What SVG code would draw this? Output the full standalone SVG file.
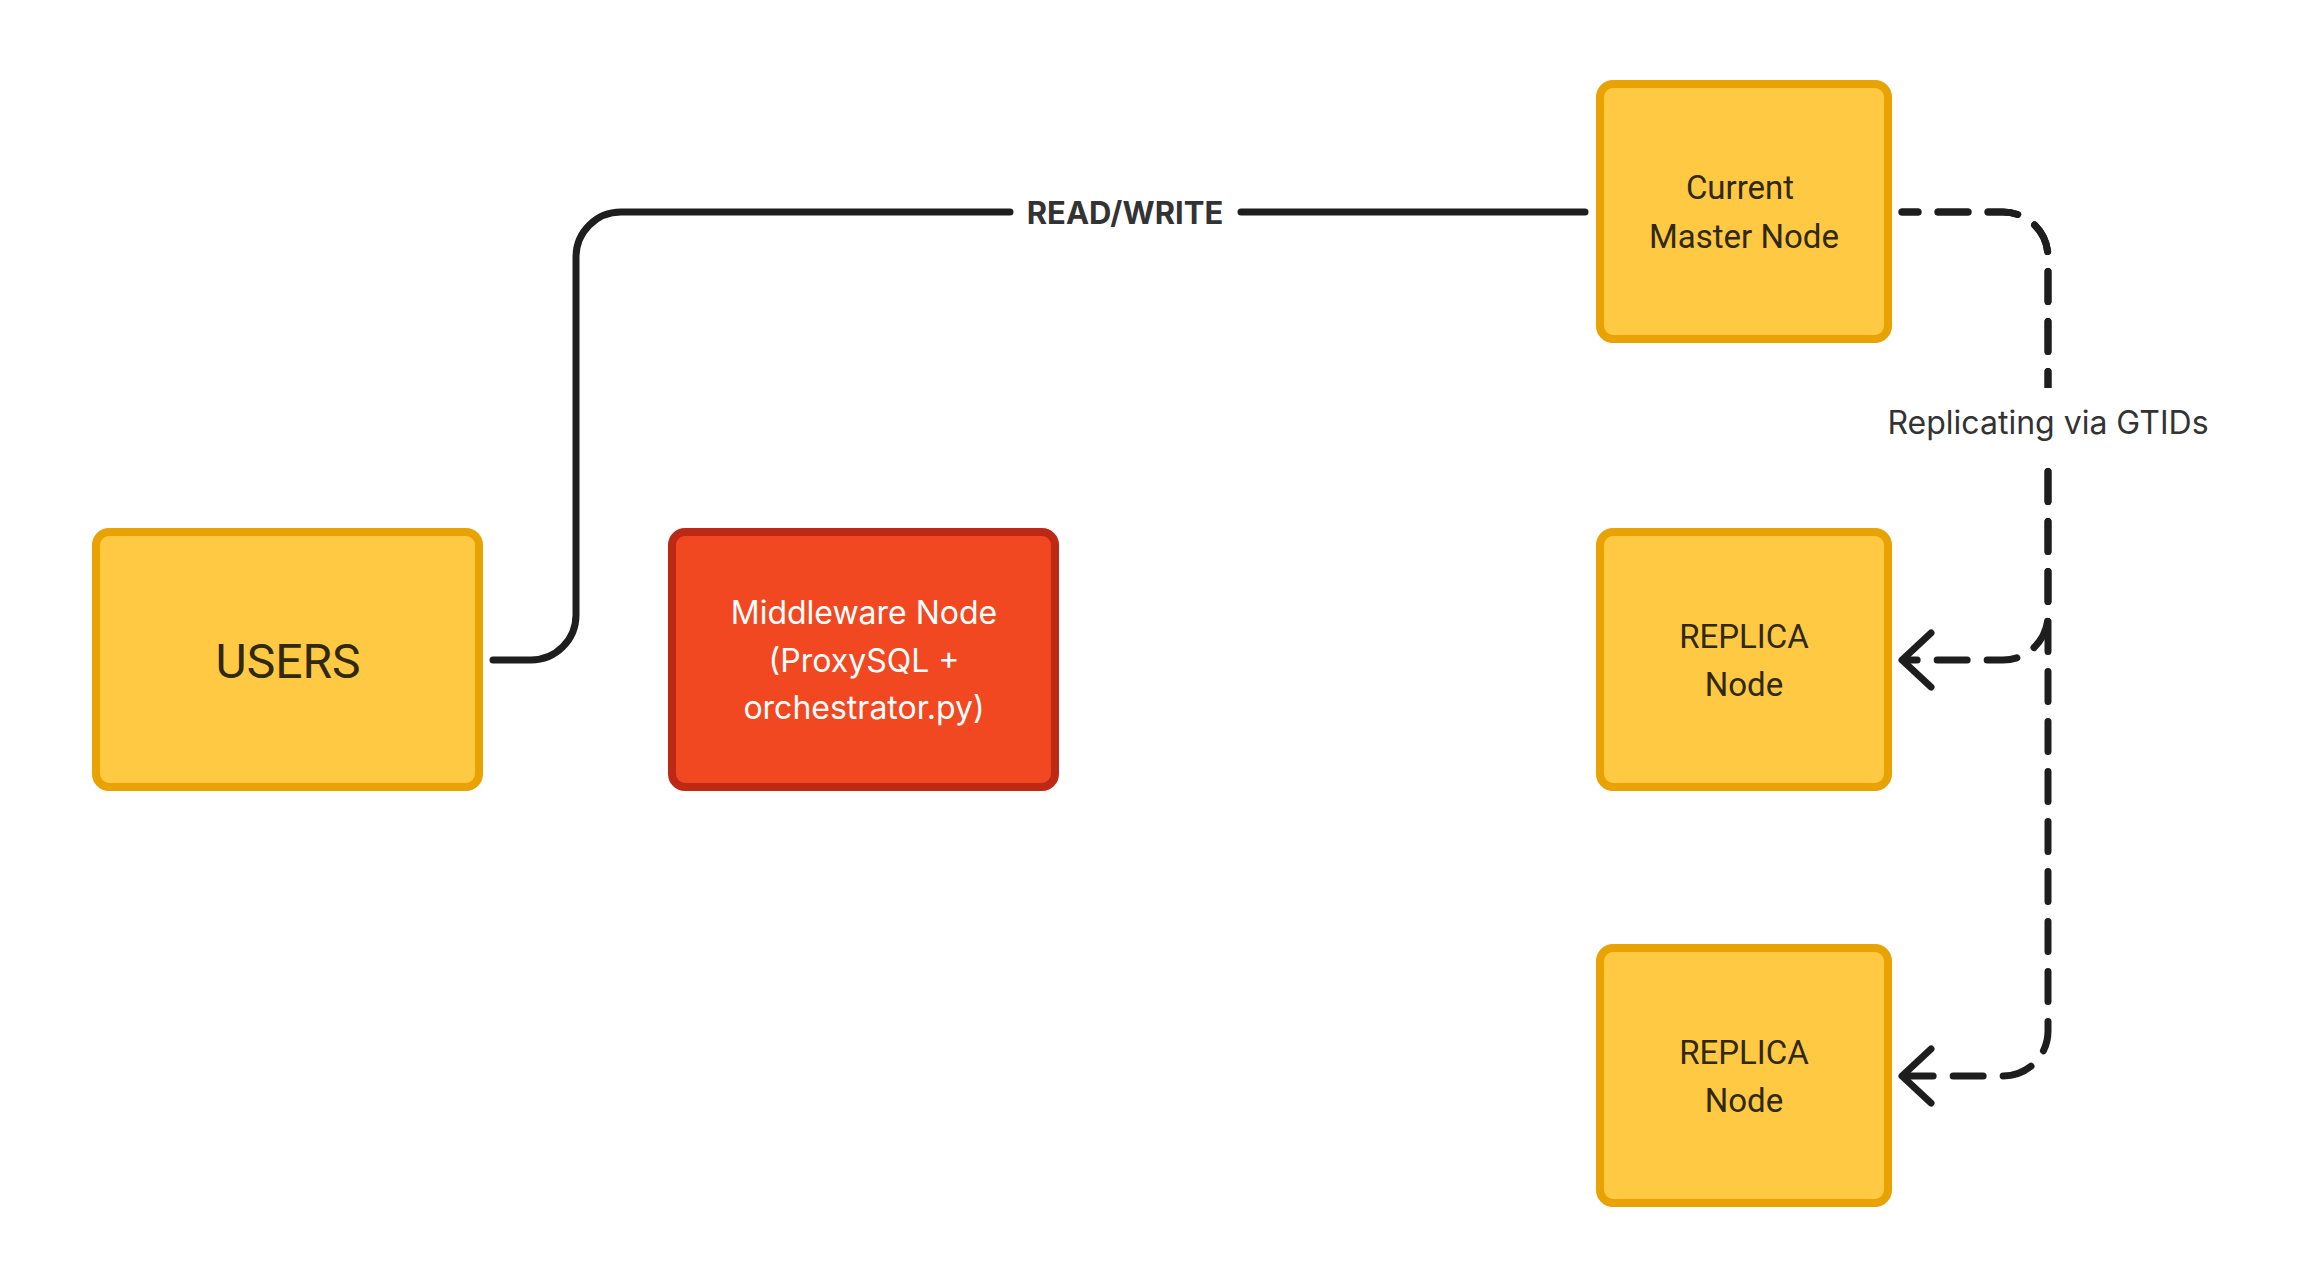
<svg xmlns="http://www.w3.org/2000/svg" width="2320" height="1288" viewBox="0 0 2320 1288">
<style>
.yel{fill:#FFC943;stroke:#E8A302;stroke-width:8}
.red{fill:#F24822;stroke:#BD2915;stroke-width:8}
.yt{font-family:Roboto,"Liberation Sans",sans-serif;font-size:33px;fill:#30280F;text-anchor:middle}
.big{font-size:48px}
.wt{font-family:Inter,"Liberation Sans",sans-serif;font-size:32px;fill:#FFFFFF;text-anchor:middle}
.ln{fill:none;stroke:#1E1E1E;stroke-width:7;stroke-linecap:round;stroke-linejoin:round}
.dash{stroke-dasharray:30 20;stroke-dashoffset:14}
.lbl{font-family:Inter,"Liberation Sans",sans-serif;font-size:32px;fill:#333333;text-anchor:middle}
.bold{font-size:31px;font-weight:700}
</style>
<rect width="2320" height="1288" fill="#FFFFFF"/>
<g id="connectors">
  <path class="ln" d="M493,660 H531 A45,45 0 0 0 576,615 V257 A45,45 0 0 1 621,212 H1010"/>
  <path class="ln" d="M1241,212 H1585"/>
  <text class="lbl bold" x="1125" y="224">READ/WRITE</text>
  <path class="ln dash" d="M1902,212 H2003 A45,45 0 0 1 2048,257 V615 A45,45 0 0 1 2003,660 H1905"/>
  <path class="ln dash" d="M1902,212 H2003 A45,45 0 0 1 2048,257 V1031 A45,45 0 0 1 2003,1076 H1905"/>
  <path class="ln" d="M1931,633 L1902,660 L1931,687"/>
  <path class="ln" d="M1931,1049 L1902,1076 L1931,1103"/>
  <rect x="1885" y="388" width="326" height="67" fill="#FFFFFF"/>
  <text class="lbl" x="2048" y="434">Replicating via GTIDs</text>
</g>
<g id="users">
  <rect class="yel" x="96" y="532" width="383" height="255" rx="13"/>
  <text class="yt big" x="288" y="678">USERS</text>
</g>
<g id="middleware">
  <rect class="red" x="672" y="532" width="383" height="255" rx="13"/>
  <text class="wt" x="864" y="624">Middleware Node</text>
  <text class="wt" x="864" y="672">(ProxySQL +</text>
  <text class="wt" x="864" y="719">orchestrator.py)</text>
</g>
<g id="master">
  <rect class="yel" x="1600" y="84" width="288" height="255" rx="13"/>
  <text class="yt" x="1740" y="199">Current</text>
  <text class="yt" x="1744" y="248">Master Node</text>
</g>
<g id="replica1">
  <rect class="yel" x="1600" y="532" width="288" height="255" rx="13"/>
  <text class="yt" x="1744" y="648">REPLICA</text>
  <text class="yt" x="1744" y="696">Node</text>
</g>
<g id="replica2">
  <rect class="yel" x="1600" y="948" width="288" height="255" rx="13"/>
  <text class="yt" x="1744" y="1064">REPLICA</text>
  <text class="yt" x="1744" y="1112">Node</text>
</g>
</svg>
